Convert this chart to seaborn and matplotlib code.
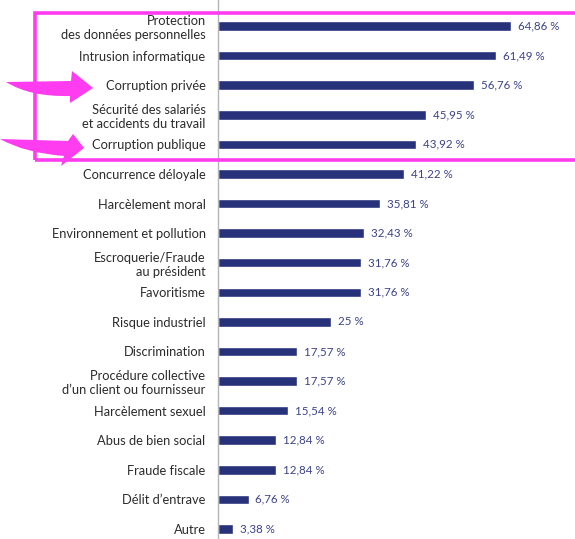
import matplotlib
matplotlib.use("Agg")
import matplotlib.pyplot as plt
import seaborn as sns
import pandas as pd
from matplotlib.path import Path
from matplotlib.patches import PathPatch, Rectangle

categories = [
    "Protection\ndes données personnelles",
    "Intrusion informatique",
    "Corruption privée",
    "Sécurité des salariés\net accidents du travail",
    "Corruption publique",
    "Concurrence déloyale",
    "Harcèlement moral",
    "Environnement et pollution",
    "Escroquerie/Fraude\nau président",
    "Favoritisme",
    "Risque industriel",
    "Discrimination",
    "Procédure collective\nd\u2019un client ou fournisseur",
    "Harcèlement sexuel",
    "Abus de bien social",
    "Fraude fiscale",
    "Délit d\u2019entrave",
    "Autre",
]
values = [64.86, 61.49, 56.76, 45.95, 43.92, 41.22, 35.81, 32.43, 31.76, 31.76,
          25, 17.57, 17.57, 15.54, 12.84, 12.84, 6.76, 3.38]

df = pd.DataFrame({"risque": categories, "part": values})

W, H = 575, 539
sns.set_style("white")
plt.rcParams["font.family"] = ["Lato", "DejaVu Sans"]

fig = plt.figure(figsize=(W / 100, H / 100), dpi=100)
ax = fig.add_axes([218 / W, 0, 1 - 218 / W, 1])

navy = "#27327a"
sns.barplot(data=df, y="risque", x="part", orient="h", color=navy,
            width=0.32, saturation=1, ax=ax)

ax.set_xlim(0, (W - 218) / 4.517)
ax.set_ylim(17.34, -0.88)
ax.set_xlabel("")
ax.set_ylabel("")
ax.set_xticks([])
ax.tick_params(axis="y", length=0, pad=9, labelsize=9.3, labelcolor="#2b2b2b")
for s in ["top", "right", "bottom"]:
    ax.spines[s].set_visible(False)
ax.spines["left"].set_color("#b4b4bc")
ax.spines["left"].set_linewidth(1)


def fr_pct(v):
    if float(v).is_integer():
        return f"{int(v)} %"
    return f"{v:.2f}".replace(".", ",") + " %"


ax.bar_label(ax.containers[0], labels=[fr_pct(v) for v in values],
             padding=5, fontsize=8.3, color="#3b4288")

# Highlight frame around the top five risks
pink = "#ff3cf0"
fig.patches.append(Rectangle((35 / W, 1 - 160 / H), (W + 10 - 35) / W, (160 - 13) / H,
                             transform=fig.transFigure, fill=False,
                             edgecolor=pink, linewidth=2.6, zorder=5))


def swoosh(tail, shaft_top, shaft_bot, head_top, tip, head_bot, ctrl_bot):
    # tapered curved arrow, pixel coordinates measured from the top-left corner
    pts = [tail, shaft_top, head_top, tip, head_bot, shaft_bot, ctrl_bot, tail]
    codes = [Path.MOVETO, Path.LINETO, Path.LINETO, Path.LINETO, Path.LINETO,
             Path.LINETO, Path.CURVE3, Path.CURVE3]
    pts = [(x / W, 1 - y / H) for x, y in pts]
    fig.patches.append(PathPatch(Path(pts, codes), transform=fig.transFigure,
                                 facecolor=pink, edgecolor="none", zorder=6))


swoosh(tail=(6, 82), shaft_top=(71, 81), shaft_bot=(70, 96),
       head_top=(72, 71), tip=(93, 88), head_bot=(70, 103), ctrl_bot=(30, 97))
swoosh(tail=(0, 139), shaft_top=(68, 141), shaft_bot=(64, 156),
       head_top=(73, 134), tip=(84, 148), head_bot=(61, 166), ctrl_bot=(25, 153))

fig.savefig("out.png", dpi=100)
